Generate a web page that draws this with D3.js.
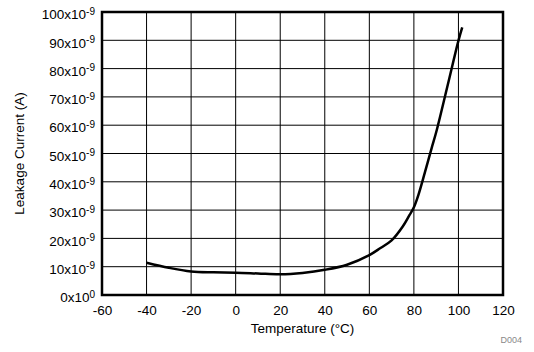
<!DOCTYPE html>
<html>
<head>
<meta charset="utf-8">
<script src="https://cdn.jsdelivr.net/npm/d3@7"></script>
<style>
  body { margin: 0; background: #fff; }
  svg { font-family: "Liberation Sans", Arial, sans-serif; }
</style>
</head>
<body>
<div id="chart"></div>
<script>
// data
var temps = [-40, -30, -20, -10, 0, 10, 20, 30, 40, 50, 60, 65, 70, 75, 78, 80, 82, 85, 88, 90, 95, 100, 101.7];
var leakage = [11.4, 9.6, 8.3, 8.0, 7.9, 7.6, 7.3, 7.8, 8.9, 10.7, 14.1, 16.6, 19.3, 24.2, 28.2, 31, 35.3, 43.5, 52, 57.5, 73.6, 89.9, 94.6]; // nA
var xTicks = [-60, -40, -20, 0, 20, 40, 60, 80, 100, 120];
var yTicks = [0, 10, 20, 30, 40, 50, 60, 70, 80, 90, 100];

var dataset = temps.map(function(t, i) { return { temp: t, value: leakage[i] }; });

var chart_width = 534;
var chart_height = 352;
var pLeft = 102, pRight = 503, pTop = 12, pBottom = 295;

var x_scale = d3.scaleLinear().domain([-60, 120]).range([pLeft, pRight]);
var y_scale = d3.scaleLinear().domain([0, 100]).range([pBottom, pTop]);

var svg = d3.select('#chart')
  .append('svg')
  .attr('width', chart_width)
  .attr('height', chart_height);

// grid
svg.append('g')
  .selectAll('line')
  .data(xTicks)
  .enter()
  .append('line')
  .attr('x1', d => x_scale(d)).attr('x2', d => x_scale(d))
  .attr('y1', pTop).attr('y2', pBottom)
  .attr('stroke', '#000').attr('stroke-width', 1);

svg.append('g')
  .selectAll('line')
  .data(yTicks)
  .enter()
  .append('line')
  .attr('x1', pLeft).attr('x2', pRight)
  .attr('y1', d => y_scale(d)).attr('y2', d => y_scale(d))
  .attr('stroke', '#000').attr('stroke-width', 1);

// axes
var x_axis = d3.axisBottom(x_scale).tickValues(xTicks).tickSize(0).tickPadding(10)
  .tickFormat(d => String(d));
var y_axis = d3.axisLeft(y_scale).tickValues(yTicks).tickSize(0).tickPadding(7)
  .tickFormat(() => '');

svg.append('g')
  .attr('transform', 'translate(0,' + pBottom + ')')
  .call(x_axis)
  .call(g => g.select('.domain').remove())
  .selectAll('text')
  .attr('font-size', 13.5)
  .attr('fill', '#000')
  .attr('font-family', '"Liberation Sans", Arial, sans-serif');

var yg = svg.append('g')
  .attr('transform', 'translate(' + pLeft + ',0)')
  .call(y_axis)
  .call(g => g.select('.domain').remove());

yg.selectAll('.tick text')
  .attr('font-size', 13.5)
  .attr('fill', '#000')
  .attr('font-family', '"Liberation Sans", Arial, sans-serif')
  .attr('dy', '0.5em')
  .each(function(d) {
    var t = d3.select(this);
    t.append('tspan').text(d === 0 ? '0x10' : d + 'x10');
    t.append('tspan').attr('dy', '-0.45em').attr('font-size', 10).text(d === 0 ? '0' : '-9');
  });

// frame
svg.append('rect')
  .attr('x', pLeft).attr('y', pTop)
  .attr('width', pRight - pLeft).attr('height', pBottom - pTop)
  .attr('fill', 'none').attr('stroke', '#000').attr('stroke-width', 2.5);

// line
var line = d3.line()
  .x(d => x_scale(d.temp))
  .y(d => y_scale(d.value))
  .curve(d3.curveCatmullRom.alpha(0.5));

svg.append('path')
  .datum(dataset)
  .attr('fill', 'none')
  .attr('stroke', '#000')
  .attr('stroke-width', 2.5)
  .attr('d', line);

// labels
svg.append('text')
  .attr('x', (pLeft + pRight) / 2)
  .attr('y', 333)
  .attr('text-anchor', 'middle')
  .attr('font-size', 13.5)
  .text('Temperature (°C)');

svg.append('text')
  .attr('transform', 'translate(24,' + ((pTop + pBottom) / 2) + ') rotate(-90)')
  .attr('text-anchor', 'middle')
  .attr('font-size', 13.5)
  .text('Leakage Current (A)');

svg.append('text')
  .attr('x', 522)
  .attr('y', 343)
  .attr('text-anchor', 'end')
  .attr('font-size', 9)
  .attr('fill', '#888')
  .text('D004');
</script>
</body>
</html>
